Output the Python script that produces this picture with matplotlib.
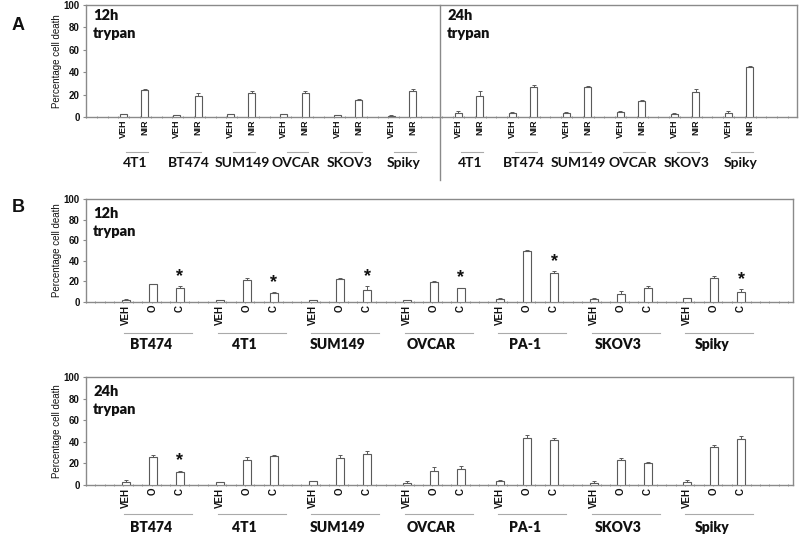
import matplotlib
matplotlib.use("Agg")
import matplotlib.pyplot as plt
import numpy as np

# ---------------- data ----------------
A_cells = ['4T1', 'BT474', 'SUM149', 'OVCAR', 'SKOV3', 'Spiky']
A_conds = ['VEH', 'NIR']
A12_veh = [2.4, 1.5, 2.5, 2.5, 1.5, 1.2]
A12_veh_err = [0.5, 0.4, 0.5, 0.5, 0.4, 0.3]
A12_nir = [23.9, 18.8, 21.8, 21.8, 14.9, 23.0]
A12_nir_err = [1.5, 3.0, 1.8, 1.8, 1.2, 1.8]
A24_veh = [3.6, 3.9, 3.3, 4.2, 3.0, 3.9]
A24_veh_err = [2.1, 0.6, 1.2, 1.2, 0.6, 1.2]
A24_nir = [19.0, 26.5, 26.5, 14.5, 22.3, 44.9]
A24_nir_err = [4.2, 1.8, 0.9, 0.5, 2.4, 0.6]

B_cells = ['BT474', '4T1', 'SUM149', 'OVCAR', 'PA-1', 'SKOV3', 'Spiky']
B_conds = ['VEH', 'O', 'C']
B12_veh = [2.3, 1.6, 1.9, 1.6, 2.6, 2.9, 3.5]
B12_veh_err = [0.4, 0.3, 0.4, 0.3, 1.3, 1.0, 0.7]
B12_o = [17.4, 21.3, 22.3, 19.4, 49.7, 8.0, 23.2]
B12_o_err = [0.4, 1.9, 0.9, 0.9, 0.9, 2.6, 1.6]
B12_c = [13.9, 9.0, 11.9, 13.2, 27.7, 13.5, 9.7]
B12_c_err = [1.3, 0.7, 3.3, 0.7, 2.3, 2.0, 2.9]
B12_sig = [1, 1, 1, 1, 1, 0, 1]
B24_veh = [3.1, 2.5, 3.4, 2.2, 3.7, 2.2, 2.8]
B24_veh_err = [1.2, 0.4, 0.6, 1.8, 0.9, 1.2, 1.8]
B24_o = [26.2, 23.5, 25.3, 13.3, 43.8, 22.8, 35.2]
B24_o_err = [1.3, 2.1, 2.2, 3.4, 2.2, 2.2, 1.8]
B24_c = [12.3, 27.2, 28.7, 15.1, 41.4, 20.4, 42.9]
B24_c_err = [0.7, 0.6, 3.1, 2.5, 2.1, 1.2, 2.5]
B24_sig = [1, 0, 0, 0, 0, 0, 0]

yticks = [0, 20, 40, 60, 80, 100]
ylabel = 'Percentage cell death'

# ---------------- style ----------------
W, H = 800, 536
fig = plt.figure(figsize=(8, 5.36), dpi=100)
GRAY = '#8a8a8a'
EDGE = '#5a5a5a'
TXT = '#111111'
BOLDF = 'Lato'
TICKF = 'Liberation Sans'


def axes_px(left, right, top, bottom):
    return fig.add_axes([left / W, 1 - bottom / H, (right - left) / W, (bottom - top) / H])


def style_axes(ax, xlim, minor_step):
    ax.set_xlim(*xlim)
    ax.set_ylim(0, 100)
    for s in ax.spines.values():
        s.set_color(GRAY)
        s.set_linewidth(1.0)
    ax.set_yticks(yticks)
    ax.set_yticklabels([str(t) for t in yticks], fontsize=7, fontweight='bold',
                       family=TICKF, color=TXT)
    ax.tick_params(axis='y', direction='out', length=2.5, width=0.8, color=GRAY, pad=2)
    ax.set_xticks(np.arange(xlim[0], xlim[1], minor_step), minor=True)
    ax.tick_params(axis='x', which='minor', direction='inout', length=2, width=0.6, color=GRAY)
    ax.tick_params(axis='x', which='major', length=0, pad=2)


def draw_bars(ax, xs, vals, errs, width):
    ax.bar(xs, vals, width=width, color='white', edgecolor=EDGE, linewidth=0.8, zorder=3)
    ax.errorbar(xs, vals, yerr=[np.zeros(len(errs)), errs], fmt='none', ecolor=EDGE,
                elinewidth=0.7, capsize=1.6, capthick=0.7, zorder=4)


def group_labels(ax, centers, names, line_from, line_to, yline, ylab, fs, weight):
    tr = ax.get_xaxis_transform()
    for c, n, a, b in zip(centers, names, line_from, line_to):
        ax.plot([a, b], [yline, yline], color='#aaaaaa', lw=0.8, transform=tr, clip_on=False)
        ax.text(c, ylab, n, transform=tr, ha='center', va='center', fontsize=fs,
                fontweight=weight, family=BOLDF, color=TXT)


def time_label(x0, y1, y2, lab):
    fig.text(x0 / W, 1 - y1 / H, lab, fontsize=10.5, fontweight='heavy', family=BOLDF,
             va='center', ha='left', color=TXT)
    fig.text(x0 / W, 1 - y2 / H, 'trypan', fontsize=10.5, fontweight='heavy', family=BOLDF,
             va='center', ha='left', color=TXT)


# ---------------- Panel A ----------------
axA = axes_px(86, 797, 5, 117)
style_axes(axA, (86, 797), 10.8)
a12_veh_x = 123 + 53.6 * np.arange(len(A_cells))
a24_veh_x = 458 + 54.0 * np.arange(len(A_cells))
a12_nir_x = a12_veh_x + 21.5
a24_nir_x = a24_veh_x + 21.5
draw_bars(axA, a12_veh_x, A12_veh, A12_veh_err, 7)
draw_bars(axA, a12_nir_x, A12_nir, A12_nir_err, 7)
draw_bars(axA, a24_veh_x, A24_veh, A24_veh_err, 7)
draw_bars(axA, a24_nir_x, A24_nir, A24_nir_err, 7)
xt = np.concatenate([np.ravel(np.column_stack([a12_veh_x, a12_nir_x])),
                     np.ravel(np.column_stack([a24_veh_x, a24_nir_x]))])
axA.set_xticks(xt)
axA.set_xticklabels(A_conds * (2 * len(A_cells)), rotation=90, fontsize=6.5,
                    fontweight='bold', family=TICKF, color=TXT)
axA.plot([440, 440], [1.0, -0.56], color=GRAY, lw=1.0,
         transform=axA.get_xaxis_transform(), clip_on=False)
for vx, nx in ((a12_veh_x, a12_nir_x), (a24_veh_x, a24_nir_x)):
    group_labels(axA, (vx + nx) / 2 + 1.5, A_cells, vx + 3, nx + 3, -0.3125, -0.41,
                 10, 'bold')
time_label(93, 15, 33, '12h')
time_label(447, 15, 33, '24h')
fig.text(57 / W, 1 - 61 / H, ylabel, rotation=90, fontsize=7, family=TICKF,
         va='center', ha='center', color=TXT)
fig.text(12 / W, 1 - 26 / H, 'A', fontsize=13, fontweight='bold', family=TICKF,
         va='center', ha='left', color=TXT)


# ---------------- Panel B ----------------
def panel_b(top, bottom, veh, veh_e, o, o_e, c, c_e, sig, tlabel, tl_y, yl_y,
            gl_line, gl_lab):
    ax = axes_px(86, 793, top, bottom)
    style_axes(ax, (86, 793), 9.36)
    vx = 126 + 93.5 * np.arange(len(B_cells))
    ox = vx + 27
    cx = vx + 54
    draw_bars(ax, vx, veh, veh_e, 8)
    draw_bars(ax, ox, o, o_e, 8)
    draw_bars(ax, cx, c, c_e, 8)
    ax.set_xticks(np.ravel(np.column_stack([vx, ox, cx])))
    ax.set_xticklabels(B_conds * len(B_cells), rotation=90, fontsize=7,
                       fontweight='bold', family=TICKF, color=TXT)
    for x, v, e, s in zip(cx, c, c_e, sig):
        if s:
            ax.annotate('*', (x, v + e), xytext=(0, 1), textcoords='offset points',
                        ha='center', va='bottom', fontsize=13, fontweight='bold',
                        family=TICKF, color=TXT)
    group_labels(ax, ox - 2, B_cells, vx - 2, cx + 12, gl_line, gl_lab, 10, 'heavy')
    time_label(93, tl_y[0], tl_y[1], tlabel)
    fig.text(57 / W, 1 - yl_y / H, ylabel, rotation=90, fontsize=7, family=TICKF,
             va='center', ha='center', color=TXT)
    return ax


panel_b(199, 302, B12_veh, B12_veh_err, B12_o, B12_o_err, B12_c, B12_c_err, B12_sig,
        '12h', (214, 231), 250, -0.301, -0.417)
panel_b(377, 485, B24_veh, B24_veh_err, B24_o, B24_o_err, B24_c, B24_c_err, B24_sig,
        '24h', (392, 410), 431, -0.269, -0.389)
fig.text(12 / W, 1 - 208 / H, 'B', fontsize=13, fontweight='bold', family=TICKF,
         va='center', ha='left', color=TXT)

fig.savefig('out.png', dpi=100, facecolor='white')
